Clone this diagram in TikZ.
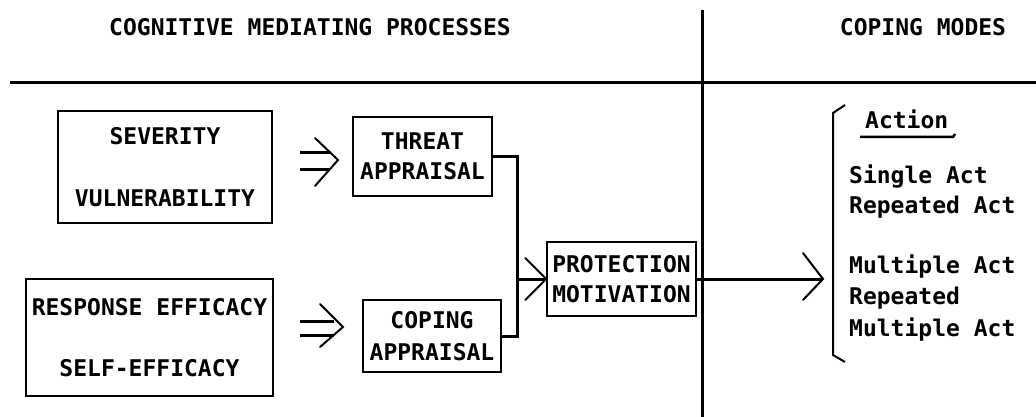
\documentclass[tikz,border=0pt]{standalone}
\usepackage{fontspec}
\setmonofont{DejaVu Sans Mono}
\begin{document}
\begin{tikzpicture}[x=1pt,y=-1pt,
  font=\ttfamily\bfseries\fontsize{23}{30}\selectfont,
  box/.style={draw, line width=1.5pt, inner sep=0pt, align=center},
  txt/.style={inner sep=0pt},
  rule/.style={line width=3pt},
  conn/.style={line width=3pt},
  chev/.style={line width=2pt, line cap=round, line join=miter}]
\useasboundingbox (0,0) rectangle (1036,417);
% headers
\node[txt] (h1) at (310,27) {COGNITIVE MEDIATING PROCESSES};
\node[txt] (h2) at (923,27) {COPING MODES};
\draw[rule] (10,83) -- (1036,83);
\draw[rule] (702,10) -- (702,417);
% boxes
\node[box, minimum width=214pt, minimum height=112pt] (sev) at (165,167) {SEVERITY\\[32pt]VULNERABILITY};
\node[box, minimum width=247pt, minimum height=117pt] (resp) at (149.5,337.5) {RESPONSE EFFICACY\\[31pt]SELF-EFFICACY};
\node[box, minimum width=139pt, minimum height=79pt] (threat) at (422.5,156.5) {THREAT\\APPRAISAL};
\node[box, minimum width=138pt, minimum height=72pt] (coping) at (432,336) {COPING\\[2pt]APPRAISAL};
\node[box, minimum width=149pt, minimum height=74pt] (prot) at (621.5,279) {PROTECTION\\MOTIVATION};
% double arrows
\coordinate (a1) at (338,160);
\draw[conn] (300,153) -- (330,153);
\draw[conn] (300,169) -- (330,169);
\draw[chev] (a1) ++(-23,-22) -- (a1) -- ++(-23,26);
\coordinate (a2) at (343,327);
\draw[conn] (300,321) -- (334,321);
\draw[conn] (300,335) -- (334,335);
\draw[chev] (a2) ++(-23,-23) -- (a2) -- ++(-23,20);
% bracket to protection
\coordinate (j) at (517,279);
\draw[conn] (threat.east) -- (threat.east -| j) -- (coping.east -| j) -- (coping.east);
\draw[conn] (j) -- (prot.west);
\draw[chev] (prot.west) ++(-21,-21) -- (prot.west) -- ++(-21,21);
% output arrow
\coordinate (out) at (823,279);
\draw[conn] (prot.east) -- (out);
\draw[chev] (out) ++(-20,-26) -- (out) -- ++(-20,21);
% brace
\draw[line width=2pt] (845,105) -- (833,113) -- (833,355) -- (845,362);
% coping modes list
\node[txt, anchor=base west] (act) at (865,129) {Action};
\draw[line width=2.5pt] (860,137) -- (953,137) -- (955,134);
\node[txt, anchor=base west] (l1) at (849,183) {Single Act};
\node[txt, anchor=base west] (l2) at (849,213) {Repeated Act};
\node[txt, anchor=base west] (l3) at (849,273) {Multiple Act};
\node[txt, anchor=base west] (l4) at (849,304) {Repeated};
\node[txt, anchor=base west] (l5) at (849,336) {Multiple Act};
\end{tikzpicture}
\end{document}
